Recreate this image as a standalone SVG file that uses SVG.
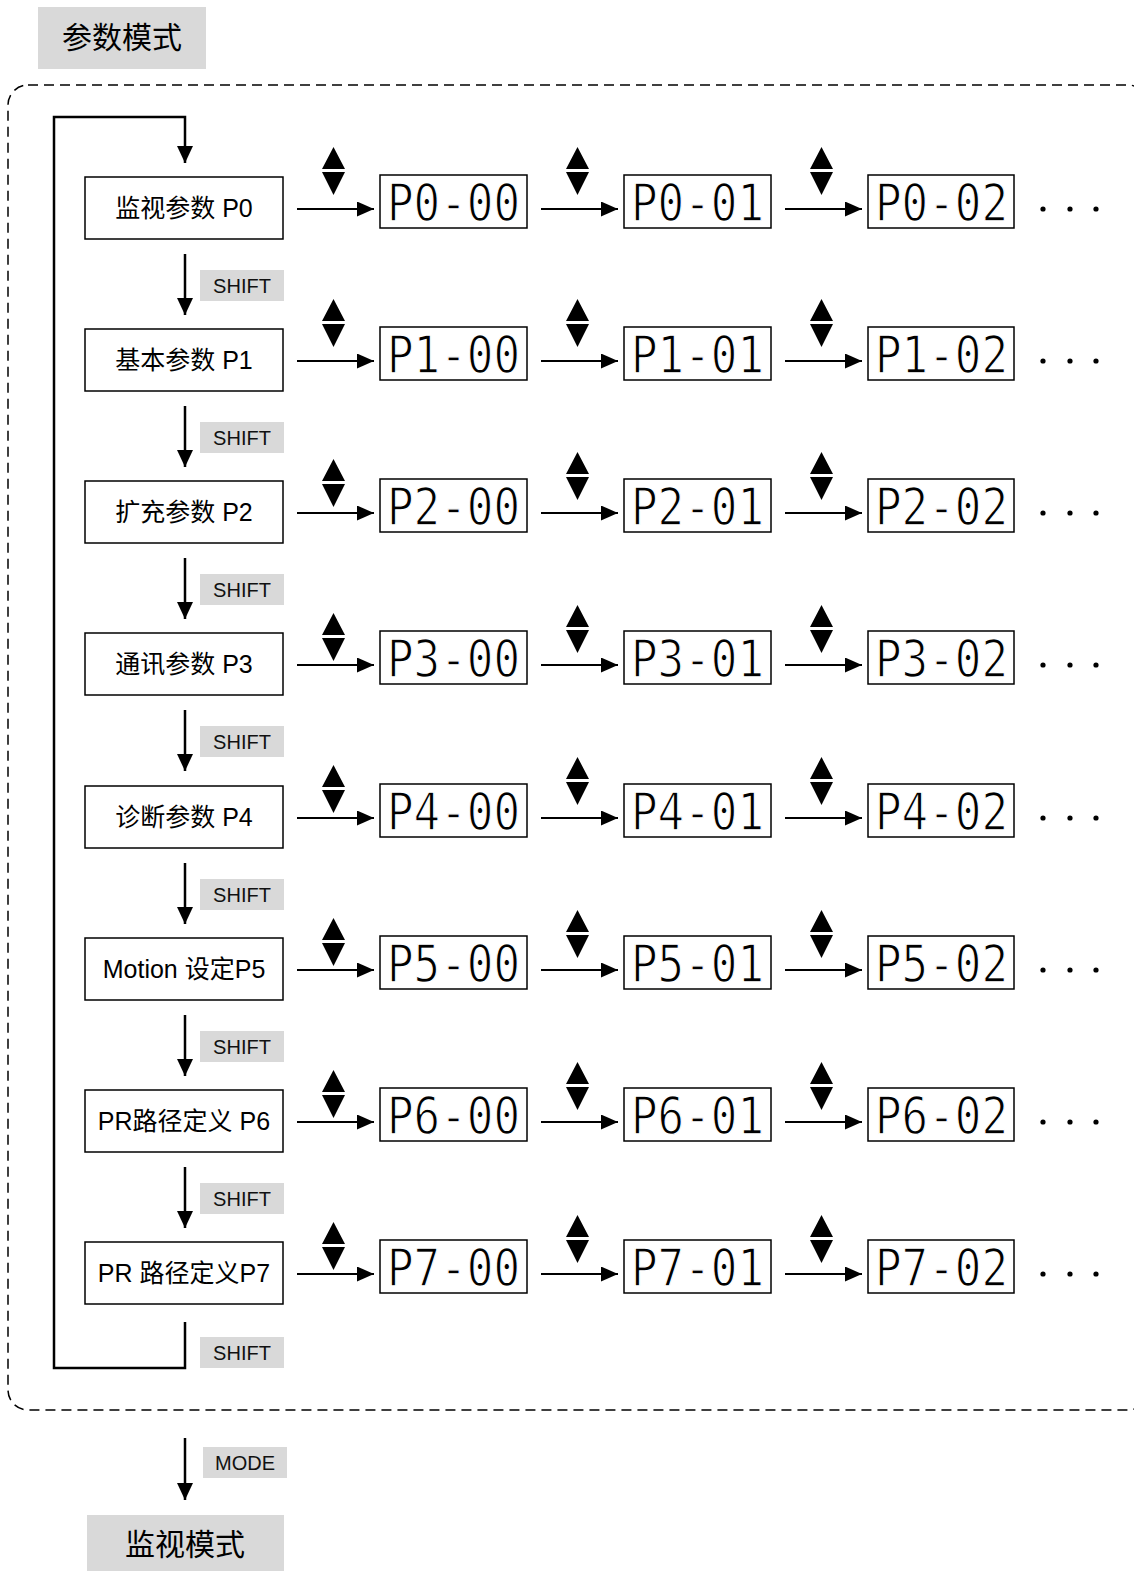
<svg xmlns="http://www.w3.org/2000/svg" xmlns:xlink="http://www.w3.org/1999/xlink" width="1134" height="1571" viewBox="0 0 1134 1571">
<style>
.lbl{font-family:"Liberation Sans","Noto Sans CJK SC",sans-serif;font-size:25px;fill:#000;text-anchor:middle}
.big{font-family:"Liberation Sans","Noto Sans CJK SC",sans-serif;font-size:30px;fill:#000;text-anchor:middle}
.key{font-family:"Liberation Sans",Arial,sans-serif;font-size:20px;fill:#111;text-anchor:middle}
.gray{fill:#d9d9d9}
.box{fill:#fff;stroke:#000;stroke-width:1.5}
.disp{fill:#fff;stroke:#000;stroke-width:1.5}
.seg{font-family:"DejaVu Sans Mono",monospace;font-size:51px;fill:#000;stroke:#fff;stroke-width:1.3}
.ln{fill:none;stroke:#000;stroke-width:2}
.lnv{fill:none;stroke:#000;stroke-width:2.5}
.dash{fill:none;stroke:#000;stroke-width:1.5;stroke-dasharray:10 6}
</style>
<defs>
<marker id="ah" viewBox="0 0 17 15" refX="17" refY="7.5" markerWidth="17" markerHeight="15" markerUnits="userSpaceOnUse" orient="auto"><path d="M0,0 L17,7.5 L0,15 Z" fill="#000"/></marker>
<marker id="ahv" viewBox="0 0 17 16" refX="17" refY="8" markerWidth="17" markerHeight="16" markerUnits="userSpaceOnUse" orient="auto"><path d="M0,0 L17,8 L0,16 Z" fill="#000"/></marker>
<g id="ud"><path d="M0,0 L11.5,22 L-11.5,22 Z M-11.5,25 L11.5,25 L0,48 Z" fill="#000"/></g>
<g id="dots" fill="#000"><circle cx="1043" cy="0" r="2.6"/><circle cx="1070" cy="0" r="2.6"/><circle cx="1096" cy="0" r="2.6"/></g>
<g id="harr">
<line class="ln" x1="297" y1="0" x2="374" y2="0" marker-end="url(#ah)"/>
<line class="ln" x1="541" y1="0" x2="618" y2="0" marker-end="url(#ah)"/>
<line class="ln" x1="785" y1="0" x2="862" y2="0" marker-end="url(#ah)"/>
</g>
</defs>

<g id="header"><rect class="gray" x="38" y="7" width="168" height="62"/><text class="big" x="122" y="48">参数模式</text></g>
<g id="frame"><rect class="dash" x="8" y="85" width="1140" height="1325" rx="20" ry="20"/></g>

<g id="connectors">
<path class="lnv" d="M185,1322 V1368 H54 V117 H185 V163" marker-end="url(#ahv)"/>
<line class="lnv" x1="185" y1="254" x2="185" y2="315" marker-end="url(#ahv)"/>
<line class="lnv" x1="185" y1="406" x2="185" y2="467" marker-end="url(#ahv)"/>
<line class="lnv" x1="185" y1="558" x2="185" y2="619" marker-end="url(#ahv)"/>
<line class="lnv" x1="185" y1="710" x2="185" y2="771" marker-end="url(#ahv)"/>
<line class="lnv" x1="185" y1="863" x2="185" y2="924" marker-end="url(#ahv)"/>
<line class="lnv" x1="185" y1="1015" x2="185" y2="1076" marker-end="url(#ahv)"/>
<line class="lnv" x1="185" y1="1167" x2="185" y2="1228" marker-end="url(#ahv)"/>
<line class="lnv" x1="185" y1="1438" x2="185" y2="1500" marker-end="url(#ahv)"/>
<use xlink:href="#harr" y="209"/>
<use xlink:href="#harr" y="361"/>
<use xlink:href="#harr" y="513"/>
<use xlink:href="#harr" y="665"/>
<use xlink:href="#harr" y="818"/>
<use xlink:href="#harr" y="970"/>
<use xlink:href="#harr" y="1122"/>
<use xlink:href="#harr" y="1274"/>
</g>

<g id="keys">
<rect class="gray" x="200" y="270" width="84" height="31"/><text class="key" x="242" y="293">SHIFT</text>
<rect class="gray" x="200" y="422" width="84" height="31"/><text class="key" x="242" y="445">SHIFT</text>
<rect class="gray" x="200" y="574" width="84" height="31"/><text class="key" x="242" y="597">SHIFT</text>
<rect class="gray" x="200" y="726" width="84" height="31"/><text class="key" x="242" y="749">SHIFT</text>
<rect class="gray" x="200" y="879" width="84" height="31"/><text class="key" x="242" y="902">SHIFT</text>
<rect class="gray" x="200" y="1031" width="84" height="31"/><text class="key" x="242" y="1054">SHIFT</text>
<rect class="gray" x="200" y="1183" width="84" height="31"/><text class="key" x="242" y="1206">SHIFT</text>
<rect class="gray" x="200" y="1337" width="84" height="31"/><text class="key" x="242" y="1360">SHIFT</text>
<rect class="gray" x="203" y="1447" width="84" height="31"/><text class="key" x="245" y="1470">MODE</text>
</g>

<g id="monitor"><rect class="gray" x="87" y="1515" width="197" height="56"/><text class="big" x="185" y="1555">监视模式</text></g>

<g id="row0">
<g id="p0"><rect class="box" x="85" y="177" width="198" height="62"/><text class="lbl" x="184" y="217">监视参数 P0</text></g>
<use xlink:href="#ud" x="333.5" y="147"/><use xlink:href="#ud" x="577.5" y="147"/><use xlink:href="#ud" x="821.5" y="147"/>
<g id="p0-00"><rect class="disp" x="380" y="175" width="147" height="53"/><text class="seg" x="387" y="221" textLength="133" lengthAdjust="spacingAndGlyphs">P0-00</text></g>
<g id="p0-01"><rect class="disp" x="624" y="175" width="147" height="53"/><text class="seg" x="631" y="221" textLength="133" lengthAdjust="spacingAndGlyphs">P0-01</text></g>
<g id="p0-02"><rect class="disp" x="868" y="175" width="146" height="53"/><text class="seg" x="875" y="221" textLength="133" lengthAdjust="spacingAndGlyphs">P0-02</text></g>
<use xlink:href="#dots" y="209"/>
</g>

<g id="row1" transform="translate(0,152)">
<g id="p1"><rect class="box" x="85" y="177" width="198" height="62"/><text class="lbl" x="184" y="217">基本参数 P1</text></g>
<use xlink:href="#ud" x="333.5" y="147"/><use xlink:href="#ud" x="577.5" y="147"/><use xlink:href="#ud" x="821.5" y="147"/>
<g id="p1-00"><rect class="disp" x="380" y="175" width="147" height="53"/><text class="seg" x="387" y="221" textLength="133" lengthAdjust="spacingAndGlyphs">P1-00</text></g>
<g id="p1-01"><rect class="disp" x="624" y="175" width="147" height="53"/><text class="seg" x="631" y="221" textLength="133" lengthAdjust="spacingAndGlyphs">P1-01</text></g>
<g id="p1-02"><rect class="disp" x="868" y="175" width="146" height="53"/><text class="seg" x="875" y="221" textLength="133" lengthAdjust="spacingAndGlyphs">P1-02</text></g>
<use xlink:href="#dots" y="209"/>
</g>

<g id="row2" transform="translate(0,304)">
<g id="p2"><rect class="box" x="85" y="177" width="198" height="62"/><text class="lbl" x="184" y="217">扩充参数 P2</text></g>
<use xlink:href="#ud" x="333.5" y="155"/><use xlink:href="#ud" x="577.5" y="148"/><use xlink:href="#ud" x="821.5" y="148"/>
<g id="p2-00"><rect class="disp" x="380" y="175" width="147" height="53"/><text class="seg" x="387" y="221" textLength="133" lengthAdjust="spacingAndGlyphs">P2-00</text></g>
<g id="p2-01"><rect class="disp" x="624" y="175" width="147" height="53"/><text class="seg" x="631" y="221" textLength="133" lengthAdjust="spacingAndGlyphs">P2-01</text></g>
<g id="p2-02"><rect class="disp" x="868" y="175" width="146" height="53"/><text class="seg" x="875" y="221" textLength="133" lengthAdjust="spacingAndGlyphs">P2-02</text></g>
<use xlink:href="#dots" y="209"/>
</g>

<g id="row3" transform="translate(0,456)">
<g id="p3"><rect class="box" x="85" y="177" width="198" height="62"/><text class="lbl" x="184" y="217">通讯参数 P3</text></g>
<use xlink:href="#ud" x="333.5" y="157"/><use xlink:href="#ud" x="577.5" y="149"/><use xlink:href="#ud" x="821.5" y="149"/>
<g id="p3-00"><rect class="disp" x="380" y="175" width="147" height="53"/><text class="seg" x="387" y="221" textLength="133" lengthAdjust="spacingAndGlyphs">P3-00</text></g>
<g id="p3-01"><rect class="disp" x="624" y="175" width="147" height="53"/><text class="seg" x="631" y="221" textLength="133" lengthAdjust="spacingAndGlyphs">P3-01</text></g>
<g id="p3-02"><rect class="disp" x="868" y="175" width="146" height="53"/><text class="seg" x="875" y="221" textLength="133" lengthAdjust="spacingAndGlyphs">P3-02</text></g>
<use xlink:href="#dots" y="209"/>
</g>

<g id="row4" transform="translate(0,609)">
<g id="p4"><rect class="box" x="85" y="177" width="198" height="62"/><text class="lbl" x="184" y="217">诊断参数 P4</text></g>
<use xlink:href="#ud" x="333.5" y="156"/><use xlink:href="#ud" x="577.5" y="148"/><use xlink:href="#ud" x="821.5" y="148"/>
<g id="p4-00"><rect class="disp" x="380" y="175" width="147" height="53"/><text class="seg" x="387" y="221" textLength="133" lengthAdjust="spacingAndGlyphs">P4-00</text></g>
<g id="p4-01"><rect class="disp" x="624" y="175" width="147" height="53"/><text class="seg" x="631" y="221" textLength="133" lengthAdjust="spacingAndGlyphs">P4-01</text></g>
<g id="p4-02"><rect class="disp" x="868" y="175" width="146" height="53"/><text class="seg" x="875" y="221" textLength="133" lengthAdjust="spacingAndGlyphs">P4-02</text></g>
<use xlink:href="#dots" y="209"/>
</g>

<g id="row5" transform="translate(0,761)">
<g id="p5"><rect class="box" x="85" y="177" width="198" height="62"/><text class="lbl" x="184" y="217">Motion 设定P5</text></g>
<use xlink:href="#ud" x="333.5" y="157"/><use xlink:href="#ud" x="577.5" y="149"/><use xlink:href="#ud" x="821.5" y="149"/>
<g id="p5-00"><rect class="disp" x="380" y="175" width="147" height="53"/><text class="seg" x="387" y="221" textLength="133" lengthAdjust="spacingAndGlyphs">P5-00</text></g>
<g id="p5-01"><rect class="disp" x="624" y="175" width="147" height="53"/><text class="seg" x="631" y="221" textLength="133" lengthAdjust="spacingAndGlyphs">P5-01</text></g>
<g id="p5-02"><rect class="disp" x="868" y="175" width="146" height="53"/><text class="seg" x="875" y="221" textLength="133" lengthAdjust="spacingAndGlyphs">P5-02</text></g>
<use xlink:href="#dots" y="209"/>
</g>

<g id="row6" transform="translate(0,913)">
<g id="p6"><rect class="box" x="85" y="177" width="198" height="62"/><text class="lbl" x="184" y="217">PR路径定义 P6</text></g>
<use xlink:href="#ud" x="333.5" y="157"/><use xlink:href="#ud" x="577.5" y="149"/><use xlink:href="#ud" x="821.5" y="149"/>
<g id="p6-00"><rect class="disp" x="380" y="175" width="147" height="53"/><text class="seg" x="387" y="221" textLength="133" lengthAdjust="spacingAndGlyphs">P6-00</text></g>
<g id="p6-01"><rect class="disp" x="624" y="175" width="147" height="53"/><text class="seg" x="631" y="221" textLength="133" lengthAdjust="spacingAndGlyphs">P6-01</text></g>
<g id="p6-02"><rect class="disp" x="868" y="175" width="146" height="53"/><text class="seg" x="875" y="221" textLength="133" lengthAdjust="spacingAndGlyphs">P6-02</text></g>
<use xlink:href="#dots" y="209"/>
</g>

<g id="row7" transform="translate(0,1065)">
<g id="p7"><rect class="box" x="85" y="177" width="198" height="62"/><text class="lbl" x="184" y="217">PR 路径定义P7</text></g>
<use xlink:href="#ud" x="333.5" y="157"/><use xlink:href="#ud" x="577.5" y="150"/><use xlink:href="#ud" x="821.5" y="150"/>
<g id="p7-00"><rect class="disp" x="380" y="175" width="147" height="53"/><text class="seg" x="387" y="221" textLength="133" lengthAdjust="spacingAndGlyphs">P7-00</text></g>
<g id="p7-01"><rect class="disp" x="624" y="175" width="147" height="53"/><text class="seg" x="631" y="221" textLength="133" lengthAdjust="spacingAndGlyphs">P7-01</text></g>
<g id="p7-02"><rect class="disp" x="868" y="175" width="146" height="53"/><text class="seg" x="875" y="221" textLength="133" lengthAdjust="spacingAndGlyphs">P7-02</text></g>
<use xlink:href="#dots" y="209"/>
</g>
</svg>
